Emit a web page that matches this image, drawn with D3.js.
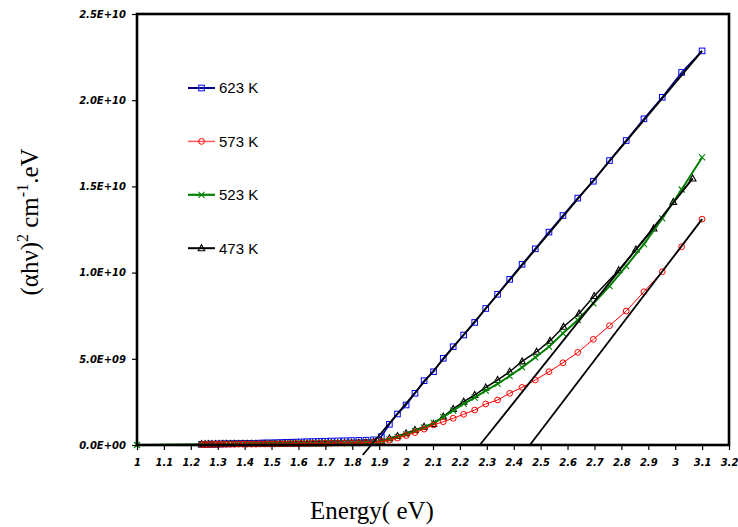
<!DOCTYPE html>
<html lang="en">
<head>
	<meta charset="utf-8">
	<title>tauc plot</title>
	<script src="https://d3js.org/d3.v7.min.js"></script>
	<style type="text/css">
		body { margin: 0; background: #fff; }
		.tick text { font-family: "DejaVu Sans", sans-serif; font-weight: bold; font-style: italic; font-size: 10px; fill: #000; }
		.Axis path { display: none; }
		.Axis line { stroke: #000; stroke-width: 1.2; }
	</style>
</head>
<body>
	<svg id="placeholder1"></svg>

	<script type="text/javascript">
		//============================================================
		//                          data
		//============================================================

		// photon energy (eV), shared by 623 K / 573 K / 523 K
		var energy = [3.100, 3.024, 2.952, 2.884, 2.818, 2.756, 2.696, 2.638, 2.583, 2.531,
			2.480, 2.431, 2.385, 2.340, 2.296, 2.255, 2.214, 2.175, 2.138, 2.102,
			2.067, 2.033, 2.000, 1.968, 1.938, 1.908, 1.879, 1.851, 1.824, 1.797,
			1.771, 1.746, 1.722, 1.699, 1.676, 1.653, 1.632, 1.610, 1.590, 1.570,
			1.550, 1.531, 1.512, 1.494, 1.476, 1.459, 1.442, 1.425, 1.409, 1.393,
			1.378, 1.363, 1.348, 1.333, 1.319, 1.305, 1.292, 1.278, 1.265, 1.253, 1.240]

		// (ahv)^2 in units of 1E+09
		var v623 = [22.86, 21.61, 20.17, 18.92, 17.66, 16.50, 15.30, 14.32, 13.31, 12.35,
			11.38, 10.48, 9.61, 8.74, 7.92, 7.11, 6.38, 5.70, 5.03, 4.25,
			3.73, 3.00, 2.32, 1.80, 1.20, 0.48, 0.30, 0.28, 0.27, 0.26,
			0.25, 0.24, 0.23, 0.22, 0.21, 0.20, 0.19, 0.18, 0.17, 0.16,
			0.15, 0.14, 0.13, 0.12, 0.12, 0.11, 0.10, 0.10, 0.09, 0.09,
			0.08, 0.08, 0.07, 0.07, 0.06, 0.06, 0.05, 0.05, 0.05, 0.04, 0.04]

		var v573 = [13.10, 11.50, 10.05, 8.89, 7.77, 6.92, 6.13, 5.37, 4.77, 4.25,
			3.77, 3.34, 3.00, 2.61, 2.38, 2.03, 1.78, 1.55, 1.35, 1.16,
			0.92, 0.72, 0.55, 0.40, 0.28, 0.20, 0.15, 0.13, 0.12, 0.12,
			0.11, 0.11, 0.10, 0.10, 0.09, 0.09, 0.08, 0.08, 0.08, 0.07,
			0.07, 0.07, 0.06, 0.06, 0.06, 0.06, 0.05, 0.05, 0.05, 0.05,
			0.05, 0.04, 0.04, 0.04, 0.04, 0.04, 0.04, 0.03, 0.03, 0.03, 0.03]

		var energy523 = energy.concat([1.000])
		var v523 = [16.68, 14.82, 13.14, 11.65, 10.38, 9.22, 8.21, 7.25, 6.48, 5.70,
			5.08, 4.50, 4.00, 3.55, 3.15, 2.75, 2.38, 2.00, 1.62, 1.28,
			1.02, 0.80, 0.62, 0.46, 0.33, 0.23, 0.16, 0.14, 0.13, 0.13,
			0.12, 0.12, 0.11, 0.11, 0.10, 0.10, 0.10, 0.09, 0.09, 0.09,
			0.08, 0.08, 0.08, 0.08, 0.07, 0.07, 0.07, 0.07, 0.07, 0.06,
			0.06, 0.06, 0.06, 0.06, 0.06, 0.05, 0.05, 0.05, 0.05, 0.05, 0.05, 0.00]

		var energy473 = [3.065, 2.993, 2.920, 2.854, 2.790, 2.699, 2.643, 2.585, 2.535, 2.485,
			2.431, 2.385, 2.340, 2.296, 2.255, 2.214, 2.175, 2.138, 2.102,
			2.067, 2.033, 2.000, 1.968, 1.938, 1.908, 1.879, 1.851, 1.824, 1.797,
			1.771, 1.746, 1.722, 1.699, 1.676, 1.653, 1.632, 1.610, 1.590, 1.570,
			1.550, 1.531, 1.512, 1.494, 1.476, 1.459, 1.442, 1.425, 1.409, 1.393,
			1.378, 1.363, 1.348, 1.333, 1.319, 1.305, 1.292, 1.278, 1.265, 1.253, 1.240]
		var v473 = [15.46, 14.10, 12.56, 11.34, 10.14, 8.64, 7.63, 6.86, 6.05, 5.41,
			4.85, 4.25, 3.77, 3.34, 2.90, 2.51, 2.09, 1.65, 1.22,
			1.06, 0.87, 0.68, 0.52, 0.39, 0.25, 0.18, 0.15, 0.14, 0.13,
			0.13, 0.12, 0.12, 0.11, 0.11, 0.10, 0.10, 0.10, 0.09, 0.09,
			0.09, 0.08, 0.08, 0.08, 0.08, 0.07, 0.07, 0.07, 0.07, 0.07,
			0.06, 0.06, 0.06, 0.06, 0.06, 0.06, 0.05, 0.05, 0.05, 0.05, 0.05]

		// straight-line extrapolations [energy, value]
		var fit623 = [[1.839, -0.58], [3.100, 22.86]]
		var fit523 = [[2.274, 0], [3.065, 15.46]]
		var fit573 = [[2.460, 0], [3.100, 13.10]]

		// ticks
		var xTicks = [1, 1.1, 1.2, 1.3, 1.4, 1.5, 1.6, 1.7, 1.8, 1.9, 2, 2.1, 2.2, 2.3, 2.4, 2.5, 2.6, 2.7, 2.8, 2.9, 3, 3.1, 3.2]
		var xTickLabels = ["1", "1.1", "1.2", "1.3", "1.4", "1.5", "1.6", "1.7", "1.8", "1.9", "2", "2.1", "2.2", "2.3", "2.4", "2.5", "2.6", "2.7", "2.8", "2.9", "3", "3.1", "3.2"]
		var yTicks = [0, 5, 10, 15, 20, 25]
		var yTickLabels = ["0.0E+00", "5.0E+09", "1.0E+10", "1.5E+10", "2.0E+10", "2.5E+10"]

		var seriesNames = ["623 K", "573 K", "523 K", "473 K"]

		//============================================================
		//                          init
		//============================================================

		var wholeW = 738
		var wholeH = 527
		var plot = {left: 137, right: 729, top: 14, bottom: 445}

		var xScale = d3.scaleLinear().domain([1, 3.2]).range([plot.left, plot.right])
		var yScale = d3.scaleLinear().domain([0, 25]).range([plot.bottom, plot.top])

		var svg = d3.select("#placeholder1")
			.attr("width", wholeW)
			.attr("height", wholeH)

		var line = d3.line().x(d => xScale(d[0])).y(d => yScale(d[1]))

		function pairs(xs, ys) { return xs.map((x, i) => [x, ys[i]]) }

		// marker draw helpers
		function drawMarker(g, type, x, y, color) {
			if (type == "square") {
				g.append("rect").attr("x", x - 2.8).attr("y", y - 2.8).attr("width", 5.6).attr("height", 5.6)
					.attr("fill", "none").attr("stroke", color).attr("stroke-width", 1)
			} else if (type == "circle") {
				g.append("circle").attr("cx", x).attr("cy", y).attr("r", 2.9)
					.attr("fill", "none").attr("stroke", color).attr("stroke-width", 1)
			} else if (type == "cross") {
				g.append("path").attr("d", "M" + (x - 3) + "," + (y - 3) + "L" + (x + 3) + "," + (y + 3) + "M" + (x - 3) + "," + (y + 3) + "L" + (x + 3) + "," + (y - 3))
					.attr("stroke", color).attr("stroke-width", 1.1)
			} else {
				g.append("path").attr("d", "M" + x + "," + (y - 3.5) + "L" + (x + 3.3) + "," + (y + 2.5) + "L" + (x - 3.3) + "," + (y + 2.5) + "Z")
					.attr("fill", "none").attr("stroke", color).attr("stroke-width", 1.1)
			}
		}

		var series = [
			{name: seriesNames[0], data: pairs(energy, v623), line: "#000099", mark: "#0000ff", width: 1.6, type: "square"},
			{name: seriesNames[3], data: pairs(energy473, v473), line: "#000000", mark: "#000000", width: 1.5, type: "triangle"},
			{name: seriesNames[2], data: pairs(energy523, v523), line: "#008000", mark: "#008000", width: 2, type: "cross"},
			{name: seriesNames[1], data: pairs(energy, v573), line: "#ff0000", mark: "#ff0000", width: 1, type: "circle"}
		]

		//============================================================
		//                          draw
		//============================================================

		series.forEach(s => {
			var g = svg.append("g").attr("class", "series")
			g.append("path").attr("d", line(s.data)).attr("fill", "none")
				.attr("stroke", s.line).attr("stroke-width", s.width)
			s.data.forEach(d => drawMarker(g, s.type, xScale(d[0]), yScale(d[1]), s.mark))
		})

		// extrapolated lines
		;[fit623, fit523, fit573].forEach(f => {
			svg.append("path").attr("d", line(f)).attr("fill", "none")
				.attr("stroke", "#000").attr("stroke-width", 1.8)
		})

		// axes
		var xAxis = d3.axisBottom(xScale).tickValues(xTicks).tickSize(5).tickPadding(9)
			.tickFormat((d, i) => xTickLabels[i])
		svg.append("g").attr("class", "x Axis")
			.attr("transform", "translate(0," + plot.bottom + ")")
			.call(xAxis)

		var yAxis = d3.axisLeft(yScale).tickValues(yTicks).tickSize(5).tickPadding(6)
			.tickFormat((d, i) => yTickLabels[i])
		svg.append("g").attr("class", "y Axis")
			.attr("transform", "translate(" + plot.left + ",0)")
			.call(yAxis)

		// frame
		svg.append("rect")
			.attr("x", plot.left).attr("y", plot.top)
			.attr("width", plot.right - plot.left).attr("height", plot.bottom - plot.top)
			.attr("fill", "none").attr("stroke", "#000").attr("stroke-width", 2.6)

		// legend
		var legendOrder = [
			{name: seriesNames[0], line: "#000080", mark: "#0000ff", type: "square", width: 2},
			{name: seriesNames[1], line: "#ff5a5a", mark: "#ff0000", type: "circle", width: 1.5},
			{name: seriesNames[2], line: "#008000", mark: "#008000", type: "cross", width: 2.2},
			{name: seriesNames[3], line: "#000000", mark: "#000000", type: "triangle", width: 2}
		]
		legendOrder.forEach((s, i) => {
			var y = 88 + i * 53.4
			var g = svg.append("g").attr("class", "legend")
			g.append("line").attr("x1", 188).attr("x2", 215).attr("y1", y).attr("y2", y)
				.attr("stroke", s.line).attr("stroke-width", s.width)
			drawMarker(g, s.type, 201.5, y, s.mark)
			g.append("text").attr("x", 219).attr("y", y + 5.3)
				.style("font-family", "'Liberation Sans', Arial, sans-serif")
				.style("font-size", "15px")
				.text(s.name)
		})

		// axis titles
		svg.append("text")
			.attr("x", 372).attr("y", 519)
			.attr("text-anchor", "middle")
			.style("font-family", "'Liberation Serif', 'Times New Roman', serif")
			.style("font-size", "25px")
			.text("Energy( eV)")

		var yt = svg.append("text")
			.attr("transform", "translate(38,222) rotate(-90)")
			.attr("text-anchor", "middle")
			.style("font-family", "'Liberation Serif', 'Times New Roman', serif")
			.style("font-size", "25px")
		yt.append("tspan").text("(αhν)")
		yt.append("tspan").attr("dy", -10).style("font-size", "16px").text("2")
		yt.append("tspan").attr("dy", 10).text(" cm")
		yt.append("tspan").attr("dy", -10).style("font-size", "16px").text("-1")
		yt.append("tspan").attr("dy", 10).text(".eV")
	</script>
</body>
</html>
